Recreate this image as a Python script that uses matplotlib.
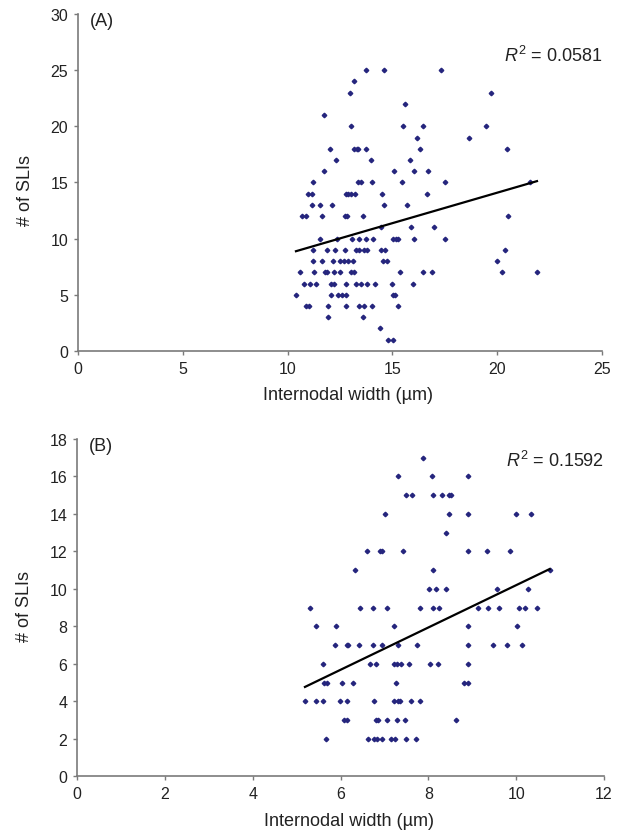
import matplotlib
matplotlib.use("Agg")
import matplotlib.pyplot as plt

# Panel A: internodal width (um) vs number of SLIs
width_a = [
    13.74, 14.58, 17.3,
    13.15,
    12.96, 19.72,
    15.58,
    11.72,
    13.03, 15.5, 16.44, 19.45,
    16.19, 18.64,
    12.02, 13.18, 13.29, 13.37, 13.76, 16.32, 20.47,
    12.32, 13.96, 15.82,
    11.72, 15.08, 16.03, 16.71,
    11.23, 13.37, 13.5, 14.04, 15.44, 17.52, 21.56,
    10.99, 11.16, 12.77, 12.88, 13.01, 13.22, 14.5, 16.67,
    11.16, 11.56, 12.13, 14.58, 15.68,
    10.70, 10.88, 11.62, 12.74, 12.82, 13.61, 20.5,
    14.44, 15.87, 17.0,
    11.55, 12.34, 13.09, 13.42, 13.76, 14.07, 15.04, 15.16, 15.28, 16.05, 17.52,
    11.19, 11.9, 12.25, 12.74, 13.26, 13.41, 13.64, 13.77, 14.47, 14.63, 20.39,
    11.23, 11.62, 12.18, 12.5, 12.71, 12.87, 13.14, 14.54, 14.73, 19.97,
    10.59, 11.27, 11.77, 11.88, 12.23, 12.51, 13.05, 13.17, 15.36, 16.46, 16.9, 20.21, 21.9,
    10.78, 11.08, 11.35, 12.09, 12.2, 12.77, 13.26, 13.52, 13.8, 14.17, 14.98, 16.0,
    10.4, 12.05, 12.42, 12.58, 12.79, 15.01, 15.12,
    10.88, 11.02, 11.94, 12.8, 13.41, 13.66, 14.03, 15.25,
    11.94, 13.58,
    14.41,
    14.78, 15.01,
]
slis_a = (
    [25] * 3 + [24] * 1 + [23] * 2 + [22] * 1 + [21] * 1 + [20] * 4 + [19] * 2
    + [18] * 7 + [17] * 3 + [16] * 4 + [15] * 7 + [14] * 8 + [13] * 5 + [12] * 7
    + [11] * 3 + [10] * 11 + [9] * 11 + [8] * 10 + [7] * 13 + [6] * 12 + [5] * 7
    + [4] * 8 + [3] * 2 + [2] * 1 + [1] * 2
)
trend_a_x = [10.4, 21.9]
trend_a_y = [8.88, 15.12]
r2_a = "0.0581"

# Panel B
width_b = [
    7.87,
    7.31, 8.09, 8.91,
    7.50, 7.62, 8.10, 8.32, 8.48, 8.52,
    7.01, 8.47, 8.90, 10.0, 10.33,
    8.41,
    6.61, 6.90, 6.94, 7.43, 8.91, 9.33, 9.86,
    6.33, 8.11, 10.76,
    8.01, 8.17, 8.40, 9.57, 10.26,
    5.31, 6.45, 6.73, 7.05, 7.82, 8.11, 8.25, 9.13, 9.35, 9.61, 10.06, 10.19, 10.47,
    5.45, 5.89, 7.21, 8.91, 10.02,
    5.88, 6.14, 6.17, 6.42, 6.74, 6.95, 7.31, 7.75, 8.91, 9.46, 9.79, 10.13,
    5.61, 6.67, 6.81, 7.22, 7.28, 7.37, 7.56, 8.03, 8.22, 8.91,
    5.63, 5.70, 6.03, 6.29, 7.27, 8.82, 8.91,
    5.19, 5.45, 5.61, 5.99, 6.14, 6.77, 7.21, 7.31, 7.36, 7.60, 7.81,
    6.08, 6.14, 6.80, 6.86, 7.05, 7.28, 7.46, 8.63,
    5.67, 6.62, 6.77, 6.83, 6.95, 7.15, 7.23, 7.49, 7.71,
]
slis_b = (
    [17] * 1 + [16] * 3 + [15] * 6 + [14] * 5 + [13] * 1 + [12] * 7 + [11] * 3
    + [10] * 5 + [9] * 13 + [8] * 5 + [7] * 12 + [6] * 10 + [5] * 7 + [4] * 11
    + [3] * 8 + [2] * 9
)
trend_b_x = [5.19, 10.76]
trend_b_y = [4.77, 11.06]
r2_b = "0.1592"

plt.rcParams["font.family"] = ["Liberation Sans", "DejaVu Sans"]
plt.rcParams["mathtext.fontset"] = "custom"
plt.rcParams["mathtext.rm"] = "Liberation Sans"
plt.rcParams["mathtext.it"] = "Liberation Sans:italic"

TEXT = "#222222"
AXIS = "#7a7a7a"
DOT = "#25257d"

fig = plt.figure(figsize=(6.23, 8.37), dpi=100)
ax_a = fig.add_axes([0.1252, 0.5795, 0.841, 0.4026])
ax_b = fig.add_axes([0.1236, 0.0713, 0.846, 0.403])


def style_axes(ax, xmax, xstep, ymax, ystep, tag, r2, r2_y, ylab_y):
    ax.set_xlim(0, xmax)
    ax.set_ylim(0, ymax)
    ax.set_xticks(range(0, xmax + 1, xstep))
    ax.set_yticks(range(0, ymax + 1, ystep))
    for side in ["top", "right"]:
        ax.spines[side].set_visible(False)
    for side in ["left", "bottom"]:
        ax.spines[side].set_color(AXIS)
        ax.spines[side].set_linewidth(1.2)
    ax.tick_params(direction="out", length=3, width=1, color=AXIS,
                   labelsize=11.5, labelcolor=TEXT, pad=4)
    ax.set_xlabel("Internodal width (µm)", fontsize=13, color=TEXT)
    ax.set_ylabel("# of SLIs", fontsize=13, color=TEXT)
    ax.xaxis.set_label_coords(0.516, -0.105)
    ax.yaxis.set_label_coords(-0.084, ylab_y)
    ax.text(0.023, 1.005, tag, transform=ax.transAxes, ha="left", va="top",
            fontsize=13, color=TEXT)
    ax.text(1.0, r2_y, r"$R^2$ = " + r2, transform=ax.transAxes,
            ha="right", va="baseline", fontsize=13, color=TEXT)
    ax.patch.set_visible(False)


ax_a.plot(width_a, slis_a, "D", ms=2.3, color=DOT, mec=DOT, clip_on=False)
ax_a.plot(trend_a_x, trend_a_y, color="black", lw=1.6)
style_axes(ax_a, 25, 5, 30, 5, "(A)", r2_a, 0.861, 0.478)

ax_b.plot(width_b, slis_b, "D", ms=2.3, color=DOT, mec=DOT, clip_on=False)
ax_b.plot(trend_b_x, trend_b_y, color="black", lw=1.6)
style_axes(ax_b, 12, 2, 18, 2, "(B)", r2_b, 0.92, 0.505)

fig.savefig("out.png", dpi=100)
